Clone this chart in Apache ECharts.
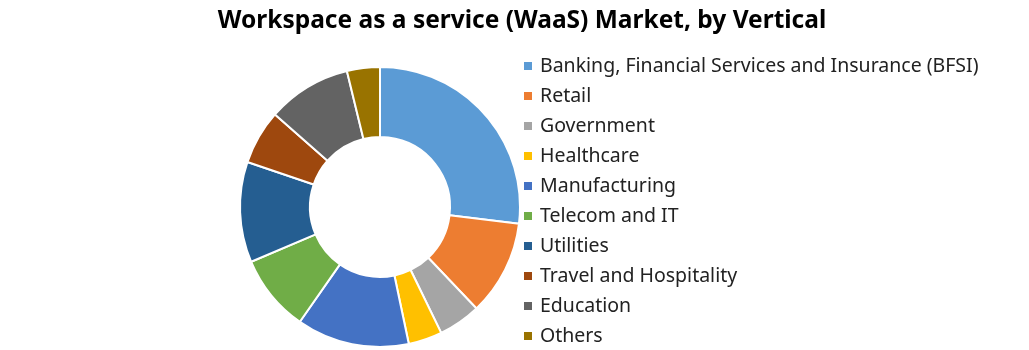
<!DOCTYPE html>
<html><head><meta charset="utf-8">
<script src="https://cdn.jsdelivr.net/npm/echarts@6/dist/echarts.min.js"></script>
<style>html,body{margin:0;padding:0;background:#fff}#c{width:1029px;height:350px}</style>
</head><body><div id="c"></div>
<script>
const categories = ["Banking, Financial Services and Insurance (BFSI)","Retail","Government","Healthcare","Manufacturing","Telecom and IT","Utilities","Travel and Hospitality","Education","Others"];
const shares = [26.9, 11.0, 4.9, 3.9, 13.0, 8.9, 11.6, 6.3, 9.7, 3.8];
const colors = ["#5B9BD5","#ED7D31","#A5A5A5","#FFC000","#4472C4","#70AD47","#255E91","#9E480E","#636363","#997300"];
const chart = echarts.init(document.getElementById('c'));
chart.setOption({
  animation:false,
  color: colors,
  title:{text:"Workspace as a service (WaaS) Market, by Vertical", left:517, top:4, textAlign:'center',
    textStyle:{fontFamily:"Noto Sans", fontWeight:'bold', fontSize:24.5, color:'#000'}},
  legend:{orient:'vertical', left:517, top:51, height:320, itemWidth:10, itemHeight:10, itemGap:10, icon:'rect',
    textStyle:{fontFamily:"Noto Sans", fontSize:19.5, lineHeight:20, color:'#222', padding:[0,0,0,2]},
    data: categories},
  series:[{type:'pie', center:[380,207], radius:[70,140], startAngle:90, clockwise:true,
    label:{show:false}, labelLine:{show:false},
    itemStyle:{borderColor:'#fff', borderWidth:2},
    emphasis:{disabled:true},
    data: categories.map((n,i)=>({name:n, value:shares[i]}))}]
});
</script></body></html>
